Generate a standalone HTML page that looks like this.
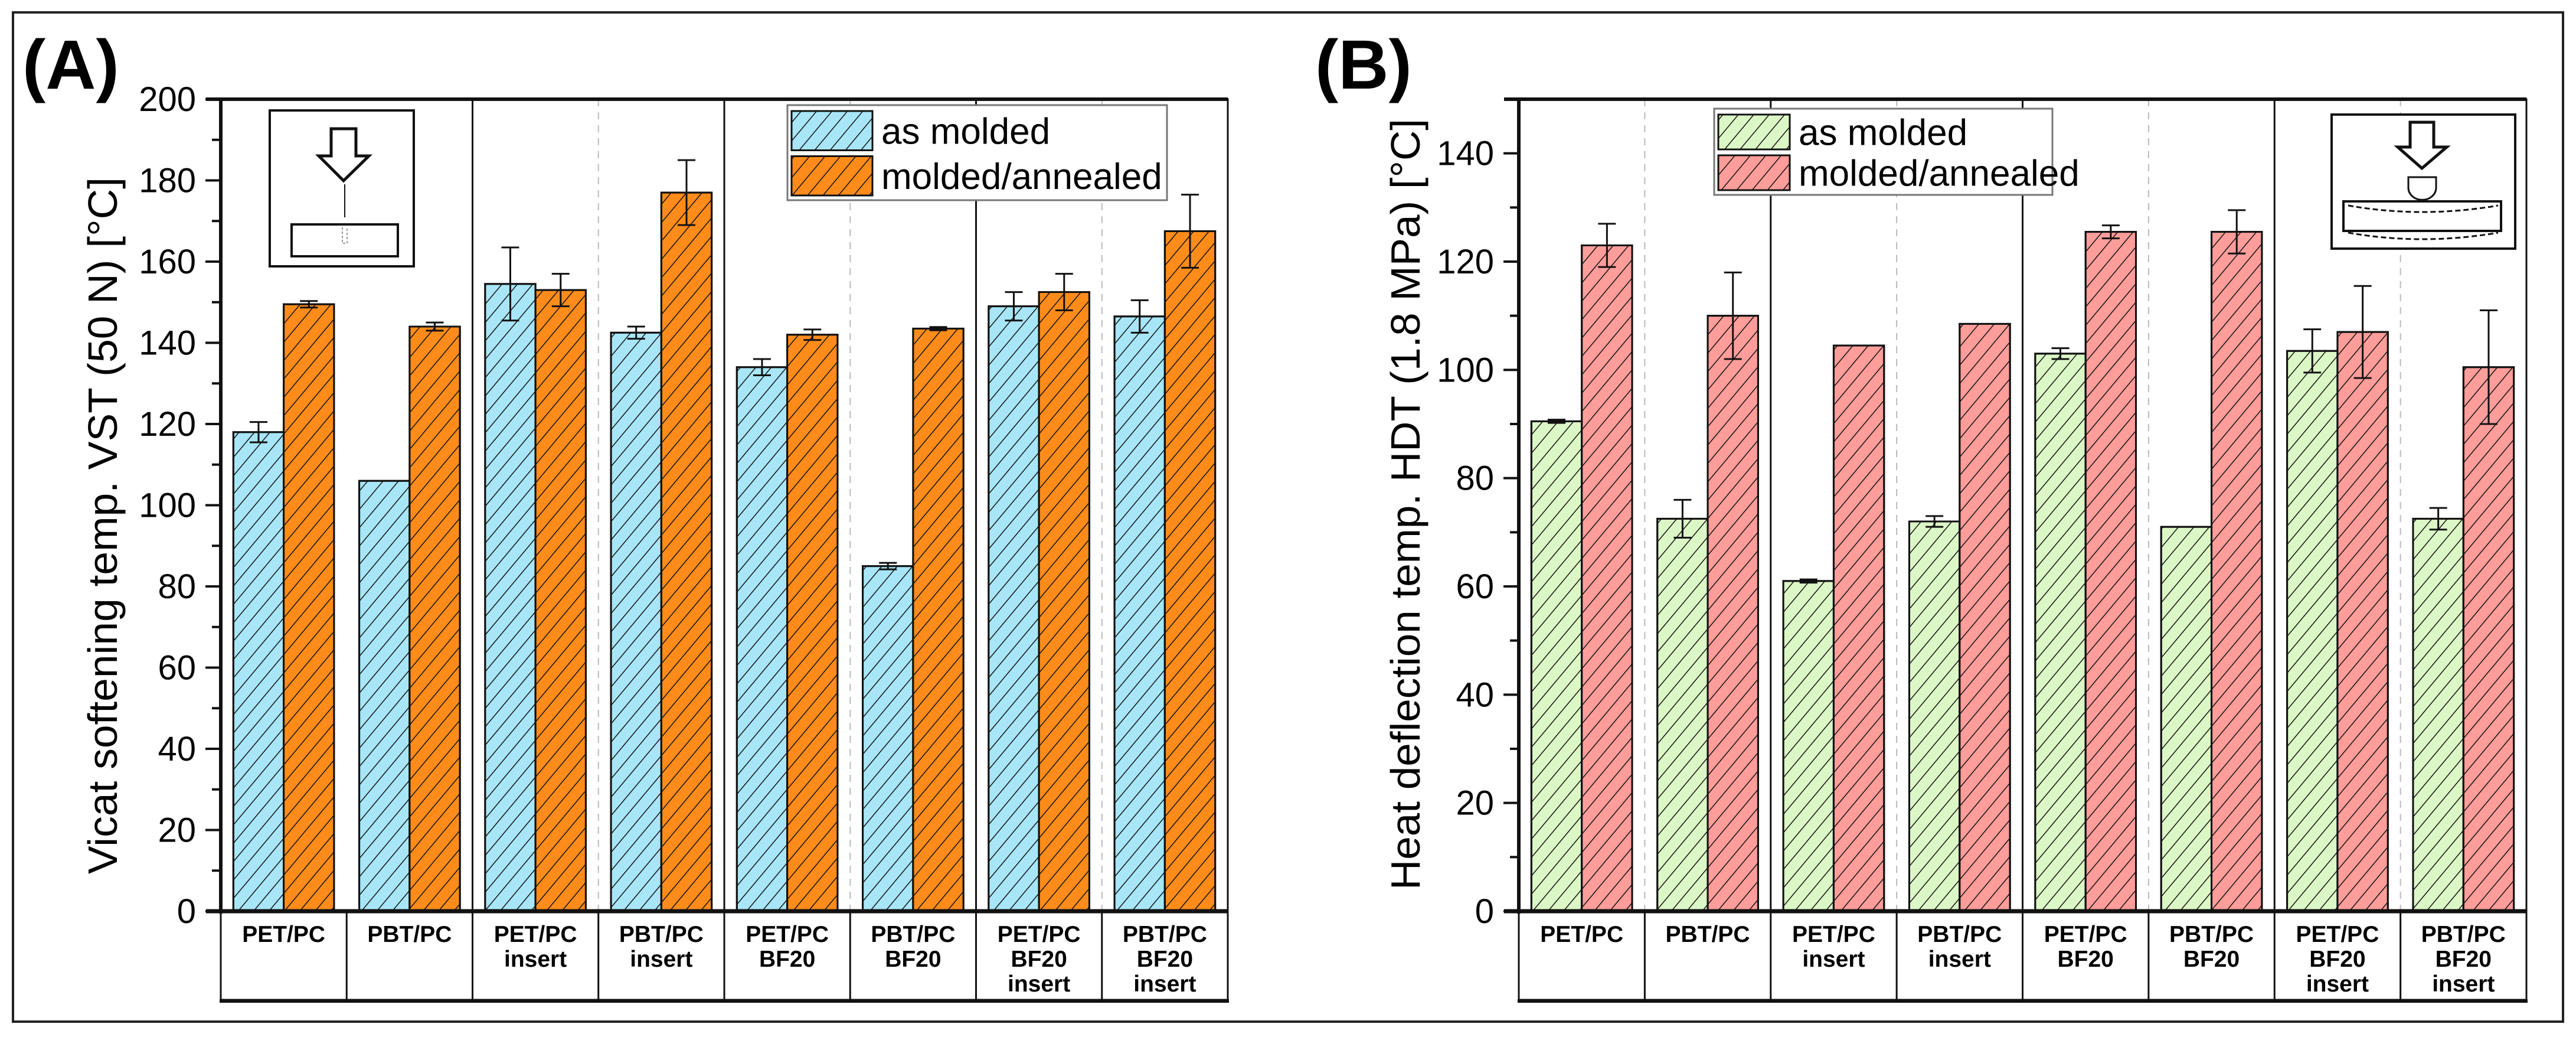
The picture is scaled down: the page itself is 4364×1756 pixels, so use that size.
<!DOCTYPE html>
<html><head><meta charset="utf-8"><style>
html,body{margin:0;padding:0;background:#fff;}
svg{display:block;}
text{font-family:"Liberation Sans",Arial,sans-serif;}
</style></head><body>
<svg id="fig" width="4364" height="1756" viewBox="0 0 4364 1756" xmlns="http://www.w3.org/2000/svg">
<defs>
<pattern id="hatch" patternUnits="userSpaceOnUse" width="20" height="20" patternTransform="rotate(40)">
<line x1="0" y1="0" x2="0" y2="20" stroke="#111" stroke-width="3"/>
</pattern>
</defs>
<rect x="22" y="21" width="4320" height="1709" fill="#fff" stroke="#222" stroke-width="4"/>
<text x="38" y="150" font-size="118" font-weight="bold">(A)</text>
<text x="2228" y="150" font-size="118" font-weight="bold">(B)</text>
<g id="panels"></g>
</svg>
<script>
// ---- data ----
const categories = [["PET/PC"],["PBT/PC"],["PET/PC","insert"],["PBT/PC","insert"],["PET/PC","BF20"],["PBT/PC","BF20"],["PET/PC","BF20","insert"],["PBT/PC","BF20","insert"]];
const seriesNames = ["as molded","molded/annealed"];
const vstMolded   = [118, 106, 154.5, 142.5, 134, 85, 149, 146.5];
const vstMoldedErr= [2.5, 0, 9, 1.5, 2, 0.8, 3.5, 4];
const vstAnnealed = [149.5, 144, 153, 177, 142, 143.5, 152.5, 167.5];
const vstAnnealedErr=[0.8, 1, 4, 8, 1.3, 0.4, 4.5, 9];
const hdtMolded   = [90.5, 72.5, 61, 72, 103, 71, 103.5, 72.5];
const hdtMoldedErr= [0.3, 3.5, 0.3, 1, 1, 0, 4, 2];
const hdtAnnealed = [123, 110, 104.5, 108.5, 125.5, 125.5, 107, 100.5];
const hdtAnnealedErr=[4, 8, 0, 0, 1.2, 4, 8.5, 10.5];
const vstTicks = [0,20,40,60,80,100,120,140,160,180,200];
const hdtTicks = [0,20,40,60,80,100,120,140];

const NS="http://www.w3.org/2000/svg";
const root=document.getElementById('panels');
function mk(tag,attrs,parent){const e=document.createElementNS(NS,tag);for(const k in attrs)e.setAttribute(k,attrs[k]);(parent||root).appendChild(e);return e;}

function panel(p){
  const g=mk('g',{});
  
  
  const x0=p.x0,x1=p.x1,yT=168,yB=1543;
  const y=v=>yB-(v-p.min)/(p.max-p.min)*(yB-yT);
  const n=categories.length, gw=(x1-x0)/n;
  for(let i=1;i<n;i++){
    if(p.skipSep.indexOf(i)>=0) continue;
    const xx=x0+i*gw;
    const s=mk('line',{x1:xx,y1:yT,x2:xx,y2:yB,stroke:i%2?'#bbb':'#111','stroke-width':i%2?2:3,'stroke-dasharray':i%2?'12 10':'none'},g);
    
    
  }
  const sets=[[p.a,p.ae,p.c1],[p.b,p.be,p.c2]];
  for(let i=0;i<n;i++){
    sets.forEach((s,k)=>{
      const bx=x0+i*gw+gw*0.1+k*gw*0.4, bw=gw*0.4, v=s[0][i];
      const r=mk('rect',{x:bx,y:y(v),width:bw,height:yB-y(v),fill:s[2],stroke:'#111','stroke-width':3},g);
      
      
      const h=mk('rect',{x:bx,y:y(v),width:bw,height:yB-y(v),fill:'url(#hatch)',stroke:'#111','stroke-width':3},g);
      
      
      const e=s[1][i];
      if(e>0.2){
        const cx=bx+bw/2;
        const eb=mk('path',{d:`M${cx} ${y(v+e)}V${y(v-e)}M${cx-15} ${y(v+e)}h30M${cx-15} ${y(v-e)}h30`,stroke:'#111','stroke-width':3,fill:'none'},g);
        
        
      }
    });
  }
  const fr=mk('rect',{x:x0,y:yT,width:x1-x0,height:yB-yT,fill:'none',stroke:'#111','stroke-width':3},g);
  
  
  mk('line',{x1:x0-25,y1:yT,x2:x1,y2:yT,stroke:'#111','stroke-width':6},g);
  mk('line',{x1:x0,y1:yT,x2:x0,y2:yB+4,stroke:'#111','stroke-width':6},g);
  mk('line',{x1:x0-25,y1:yB,x2:x1,y2:yB,stroke:'#111','stroke-width':7},g);
  p.ticks.forEach((t,i)=>{
    mk('line',{x1:x0-26,y1:y(t),x2:x0,y2:y(t),stroke:'#111','stroke-width':4},g);
    const tl=mk('text',{x:x0-42,y:y(t)+20,'font-size':58,'text-anchor':'end'},g);
    tl.textContent=t;
    
    
    const m=t+(p.ticks[1]-p.ticks[0])/2; if(m<=p.max) mk('line',{x1:x0-15,y1:y(m),x2:x0,y2:y(m),stroke:'#111','stroke-width':4},g);
  });
  const yt=mk('text',{x:0,y:0,'font-size':70,'text-anchor':'middle',transform:`translate(${p.titleX},${p.titleY}) rotate(-90)`,textLength:p.titleLen,lengthAdjust:'spacingAndGlyphs'},g);
  yt.textContent=p.title;
  
  
  const lb=mk('rect',{x:x0,y:yB,width:x1-x0,height:150,fill:'none',stroke:'#111','stroke-width':3},g);
  
  
  mk('line',{x1:x0-2,y1:yB+152,x2:x1+2,y2:yB+152,stroke:'#111','stroke-width':6},g);
  for(let i=0;i<n;i++){
    if(i>0) mk('line',{x1:x0+i*gw,y1:yB,x2:x0+i*gw,y2:yB+150,stroke:'#111','stroke-width':3},g);
    categories[i].forEach((ln,j)=>{
      const ct=mk('text',{x:x0+i*gw+gw/2,y:yB+52+j*42,'font-size':39,'font-weight':'bold','text-anchor':'middle'},g);
      ct.textContent=ln;
      
      
    });
  }
  const L=p.leg;
  const lg=mk('g',{},g);
  
  
  mk('rect',{x:L.x,y:L.y,width:L.w,height:L.h,fill:'#fff',stroke:'#777','stroke-width':3},lg);
  [[p.c1,0],[p.c2,1]].forEach(([c,k])=>{
    const sy=L.y+10+k*(L.h/2-4), sh=L.h/2-14;
    mk('rect',{x:L.x+7,y:sy,width:L.sw,height:sh,fill:c,stroke:'#111','stroke-width':3},lg);
    mk('rect',{x:L.x+7,y:sy,width:L.sw,height:sh,fill:'url(#hatch)'},lg);
    const lt=mk('text',{x:L.x+L.sw+22,y:sy+sh/2+22,'font-size':62},lg);
    lt.textContent=seriesNames[k];
    
    
  });
  return g;
}

panel({id:'vicat',x0:374,x1:2080,min:0,max:200,ticks:vstTicks,a:vstMolded,ae:vstMoldedErr,b:vstAnnealed,be:vstAnnealedErr,c1:'#a8e6f7',c2:'#ff8c1a',skipSep:[1],
  title:'Vicat softening temp. VST (50 N) [°C]',titleX:198,titleY:890,titleLen:1180,
  leg:{x:1334,y:178,w:643,h:161,sw:137}});
panel({id:'hdt',x0:2573,x1:4280,min:0,max:150,ticks:hdtTicks,a:hdtMolded,ae:hdtMoldedErr,b:hdtAnnealed,be:hdtAnnealedErr,c1:'#dcf7c6',c2:'#ff9d9a',skipSep:[],
  title:'Heat deflection temp. HDT (1.8 MPa) [°C]',titleX:2405,titleY:854,titleLen:1306,
  leg:{x:2904,y:184,w:573,h:146,sw:121}});

const ia=mk('g',{});


mk('rect',{x:457,y:187,width:244,height:264,fill:'#fff',stroke:'#111','stroke-width':4},ia);
mk('path',{d:'M561 218H603V264H625L582 306L540 264H561Z',fill:'#fff',stroke:'#111','stroke-width':5},ia);
mk('line',{x1:584,y1:312,x2:584,y2:368,stroke:'#111','stroke-width':2},ia);
mk('rect',{x:494,y:380,width:180,height:54,fill:'#fff',stroke:'#111','stroke-width':4},ia);
mk('path',{d:'M580 385V412H588V385',fill:'none',stroke:'#999','stroke-width':2,'stroke-dasharray':'4 3'},ia);

const ib=mk('g',{});


mk('rect',{x:3950,y:194,width:311,height:227,fill:'#fff',stroke:'#111','stroke-width':4},ib);
mk('path',{d:'M4083 207H4123V249H4145L4103 285L4062 249H4083Z',fill:'#fff',stroke:'#111','stroke-width':5},ib);
mk('path',{d:'M4080 300H4127V318A23 20 0 0 1 4080 318Z',fill:'#fff',stroke:'#111','stroke-width':3},ib);
mk('rect',{x:3970,y:341,width:267,height:50,fill:'#fff',stroke:'#111','stroke-width':4},ib);
mk('path',{d:'M3978 348Q4103 370 4232 348',fill:'none',stroke:'#111','stroke-width':3,'stroke-dasharray':'9 5'},ib);
mk('path',{d:'M3978 394Q4103 416 4232 394',fill:'none',stroke:'#111','stroke-width':3,'stroke-dasharray':'9 5'},ib);
</script>
</body></html>
